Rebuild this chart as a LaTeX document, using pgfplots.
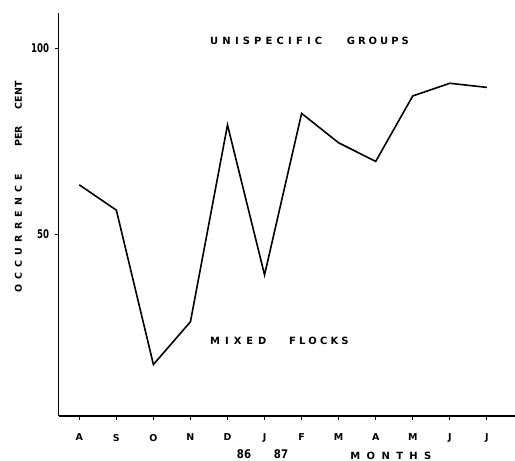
\documentclass[border=0pt]{standalone}
\usepackage{fontspec}
\setmainfont{DejaVu Sans}
\newfontfamily\digitfont[FakeStretch=0.72]{DejaVu Sans}
\newfontfamily\digitfontb[FakeStretch=0.85]{DejaVu Sans}
\usepackage{pgfplots}
\pgfplotsset{compat=1.18}
\newcommand{\ls}[2]{{\addfontfeature{LetterSpace=#1}#2}}
\begin{document}
\begin{tikzpicture}[x=1bp,y=1bp]
\path[use as bounding box] (0,0) rectangle (515,461);
\begin{axis}[
  scale only axis,
  width=456.3bp, height=403bp,
  at={(58.7bp,45bp)}, anchor=south west,
  axis lines*=left,
  axis line style={line width=1.5bp},
  xmin=-0.556, xmax=11.76,
  ymin=1.16, ymax=109.5,
  xtick={0,...,11},
  xticklabels={A,S,O,N,D,J,F,M,A,M,J,J},
  ytick={50,100},
  tick align=outside,
  major tick length=4bp,
  tick style={line width=1bp, black},
  x tick label style={font=\fontsize{9.5}{10}\selectfont\bfseries, yshift=-10.5bp},
  y tick label style={font=\fontsize{12}{13}\selectfont\digitfont\bfseries, xshift=-2bp},
  /pgf/number format/assume math mode=true,
  xlabel={\fontsize{10}{11}\selectfont\bfseries\ls{64}{MONTHS}},
  xlabel style={at={(axis description cs:0.728,-0.099)}, anchor=center},
  clip=false,
]
\addplot[black, line width=1.6bp, mark=none] coordinates {
(0,63.3) (1,56.5) (2,15.0) (3,26.5) (4,79.4) (5,39.1)
(6,82.5) (7,74.6) (8,69.6) (9,87.2) (10,90.6) (11,89.5)
};
\end{axis}
\begin{scope}[every node/.style={inner sep=0pt, anchor=west, font=\fontsize{10}{11}\selectfont\bfseries}]
\node at (210,420) {\ls{42}{UNISPECIFIC}};
\node at (346.7,420) {\ls{30}{GROUPS}};
\node at (210,120) {\ls{50}{MIXED}};
\node at (289,120) {\ls{32}{FLOCKS}};
\end{scope}
\begin{scope}[every node/.style={inner sep=0pt, anchor=west, rotate=90, font=\fontsize{9.5}{10}\selectfont\bfseries}]
\node at (18.5,168) {\ls{55}{OCCURRENCE}};
\node at (18.5,314) {PER};
\node at (18.5,351) {\ls{5}{CENT}};
\end{scope}
\node[inner sep=0pt, font=\fontsize{12}{13}\selectfont\digitfontb\bfseries] at (244,7) {86};
\node[inner sep=0pt, font=\fontsize{12}{13}\selectfont\digitfontb\bfseries] at (281,7) {87};
\end{tikzpicture}
\end{document}
